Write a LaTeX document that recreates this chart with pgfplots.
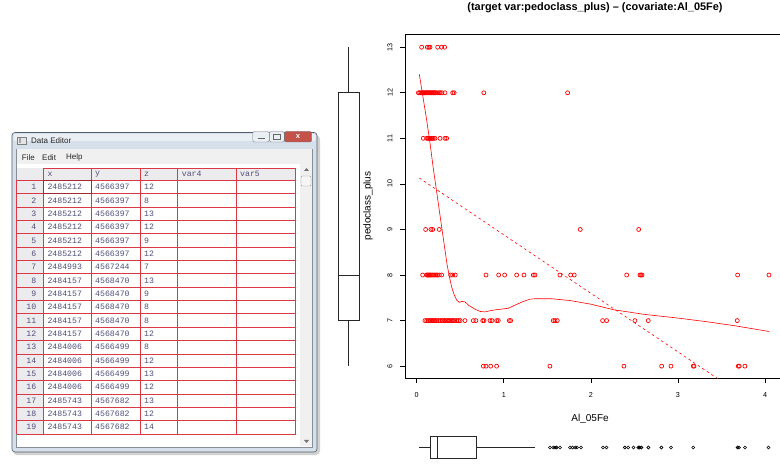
\documentclass[border=0pt]{standalone}
\usepackage{fontspec}
\setmainfont{Liberation Sans}
\newfontfamily\mono{Liberation Mono}
\usepackage{pgfplots}
\pgfplotsset{compat=1.18}
\usepgfplotslibrary{statistics}
\definecolor{gridred}{RGB}{218,56,68}
\definecolor{celltext}{RGB}{78,78,122}
\definecolor{rowgray}{RGB}{236,236,238}
\definecolor{framecol}{RGB}{214,224,234}
\definecolor{frameline}{RGB}{84,94,108}
\definecolor{menugray}{RGB}{240,240,240}
\definecolor{closered}{RGB}{196,82,72}
\begin{document}
\begin{tikzpicture}[x=1pt,y=1pt]
\useasboundingbox (0,0) rectangle (780,464);
\fill[white] (0,0) rectangle (780,464);
% ---------------- Data Editor window (pixel coordinates) ----------------
\begin{scope}[shift={(0pt,464pt)}, x=1pt, y=-1pt]
  \fill[black, opacity=0.18, rounded corners=4pt] (13,135) rectangle (320,455);
  \draw[frameline, fill=framecol, rounded corners=3pt, line width=0.6pt] (12,132.5) rectangle (317,452);
  \fill[white, opacity=0.5, rounded corners=2pt] (13.5,134) rectangle (315.5,141);
  % icon and title
  \draw[black!50, fill=black!10] (17.5,137) rectangle (26.5,144.5);
  \fill[black!35] (18.5,138) rectangle (21,143.5);
  \node[anchor=west, inner sep=0pt, font=\fontsize{8}{9}\selectfont, black!85] at (31,141) {Data Editor};
  % window buttons
  \draw[frameline!80, fill=framecol!50!white, rounded corners=2pt] (252.7,131.5) rectangle (269.3,142);
  \draw[black!60, line width=1pt] (257.5,139) -- (264.5,139);
  \draw[frameline!80, fill=framecol!50!white, rounded corners=2pt] (269.3,131.5) rectangle (284.3,142);
  \draw[black!60, line width=0.7pt] (273.5,134.5) rectangle (280,139.5);
  \draw[frameline!90, fill=closered, rounded corners=2pt] (284.3,131.5) rectangle (311.7,142);
  \node[inner sep=0pt, white, font=\bfseries\fontsize{7.5}{8}\selectfont] at (298,136.8) {x};
  % client area
  \draw[frameline!70, fill=white] (16.5,149) rectangle (312.5,447);
  \fill[menugray] (17,149.5) rectangle (312,164);
  \node[anchor=west, inner sep=0pt, font=\fontsize{8}{9}\selectfont, black!85] at (21.7,157.3) {File};
  \node[anchor=west, inner sep=0pt, font=\fontsize{8}{9}\selectfont, black!85] at (42,157.3) {Edit};
  \node[anchor=west, inner sep=0pt, font=\fontsize{8}{9}\selectfont, black!85] at (66,157.3) {Help};
  % scrollbar
  \fill[menugray] (300,164) rectangle (312,446.5);
  \fill[black!55] (304,171) -- (309,171) -- (306.5,168) -- cycle;
  \fill[black!55] (304,440) -- (309,440) -- (306.5,443) -- cycle;
  \draw[black!40, fill=black!4, rounded corners=1pt] (301,176) rectangle (311,186);
  % table backgrounds
  \fill[rowgray] (16.7,168) rectangle (43.3,434);
  \fill[rowgray] (43.3,168) rectangle (295.7,180.3);
  % grid
  \draw[gridred, line width=0.6pt] (43.3,168) -- (295.7,168);
  \foreach \k in {0,...,19} {
    \pgfmathsetmacro{\yy}{180.3+13.35*\k}
    \draw[gridred, line width=0.6pt] (16.7,\yy) -- (295.7,\yy);
  }
  \draw[gridred, line width=0.6pt] (16.7,180.3) -- (16.7,434);
  \foreach \xx in {43.3,91.7,140,177.3,236.7,295.7} {
    \draw[gridred, line width=0.6pt] (\xx,168) -- (\xx,434);
  }
  \draw[gridred!75!black, line width=1.1pt] (43.6,180.6) rectangle (91.4,193.35);
  % header
  \foreach \hx/\htxt in {47.3/x, 95/y, 144/z, 181.7/var4, 240/var5} {
    \node[anchor=west, inner sep=0pt, celltext, font=\mono\fontsize{8.2}{9}\selectfont] at (\hx,174.2) {\htxt};
  }
  % rows
  \foreach \r/\a/\b/\c in {1/2485212/4566397/12, 2/2485212/4566397/8, 3/2485212/4566397/13,
      4/2485212/4566397/12, 5/2485212/4566397/9, 6/2485212/4566397/12, 7/2484993/4567244/7,
      8/2484157/4568470/13, 9/2484157/4568470/9, 10/2484157/4568470/8, 11/2484157/4568470/8,
      12/2484157/4568470/12, 13/2484006/4566499/8, 14/2484006/4566499/12, 15/2484006/4566499/13,
      16/2484006/4566499/12, 17/2485743/4567682/13, 18/2485743/4567682/12, 19/2485743/4567682/14} {
    \pgfmathsetmacro{\yc}{180.3+13.35*(\r-0.5)}
    \node[anchor=east, inner sep=0pt, celltext, font=\mono\fontsize{8.2}{9}\selectfont] at (36.5,\yc) {\r};
    \node[anchor=west, inner sep=0pt, celltext, font=\mono\fontsize{8.2}{9}\selectfont] at (47.3,\yc) {\a};
    \node[anchor=west, inner sep=0pt, celltext, font=\mono\fontsize{8.2}{9}\selectfont] at (95,\yc) {\b};
    \node[anchor=west, inner sep=0pt, celltext, font=\mono\fontsize{8.2}{9}\selectfont] at (144,\yc) {\c};
  }
\end{scope}
% ---------------- Main scatter plot ----------------
\begin{axis}[
  at={(405pt,86pt)}, anchor=south west,
  scale only axis, width=380pt, height=344pt,
  xmin=-0.134, xmax=4.229, ymin=5.74, ymax=13.29,
  axis line style={black, line width=0.6pt},
  xtick={0,1,2,3,4}, ytick={6,7,8,9,10,11,12,13},
  xtick pos=bottom, ytick pos=left,
  tick align=outside, major tick length=5pt,
  tick style={black, line width=0.6pt},
  tick label style={font=\fontsize{7.2}{8}\selectfont},
  /pgf/number format/assume math mode=true,
  xticklabel style={anchor=center, inner sep=0pt},
  yticklabel style={rotate=90, anchor=center, inner sep=0pt},
  xticklabel shift=12pt, yticklabel shift=10pt,
  xlabel={Al\_05Fe}, ylabel={pedoclass\_plus},
  label style={font=\fontsize{7.2}{8}\selectfont},
  every axis x label/.style={at={(axis description cs:0.487,-0.119)}, anchor=center},
  every axis y label/.style={at={(axis description cs:-0.0974,0.5)}, rotate=90, anchor=center},
  title={(target var:pedoclass\_plus) \textendash{} (covariate:Al\_05Fe)},
  title style={at={(axis description cs:0.5,1.058)}, anchor=center, font=\bfseries\fontsize{10.9}{12}\selectfont},
]
\addplot[only marks, mark=o, mark size=2pt, red, mark options={line width=0.7pt}] coordinates {
 (0.057,13) (0.122,13) (0.141,13) (0.153,13) (0.241,13) (0.287,13) (0.321,13)
 (0.02,12) (0.035,12) (0.05,12) (0.06,12) (0.07,12) (0.08,12) (0.09,12) (0.10,12) (0.11,12)
 (0.12,12) (0.13,12) (0.14,12) (0.15,12) (0.16,12) (0.17,12) (0.18,12) (0.19,12) (0.20,12)
 (0.21,12) (0.22,12) (0.24,12) (0.26,12) (0.27,12) (0.29,12) (0.325,12) (0.413,12) (0.43,12)
 (0.771,12) (1.733,12)
 (0.076,11) (0.115,11) (0.13,11) (0.14,11) (0.15,11) (0.16,11) (0.17,11) (0.18,11) (0.19,11)
 (0.21,11) (0.268,11) (0.325,11) (0.344,11)
 (0.103,9) (0.164,9) (0.184,9) (0.259,9) (1.878,9) (2.549,9)
 (0.069,8) (0.115,8) (0.125,8) (0.135,8) (0.145,8) (0.155,8) (0.165,8) (0.18,8) (0.195,8)
 (0.21,8) (0.225,8) (0.24,8) (0.26,8) (0.287,8) (0.39,8) (0.413,8) (0.443,8) (0.796,8)
 (0.941,8) (1.01,8) (1.148,8) (1.232,8) (1.339,8) (1.358,8) (1.645,8) (1.768,8) (1.809,8)
 (2.411,8) (2.564,8) (2.575,8) (2.587,8) (3.685,8) (4.045,8)
 (0.095,7) (0.115,7) (0.135,7) (0.15,7) (0.165,7) (0.18,7) (0.19,7) (0.2,7) (0.215,7)
 (0.23,7) (0.25,7) (0.27,7) (0.29,7) (0.3,7) (0.32,7) (0.335,7) (0.35,7) (0.365,7) (0.38,7)
 (0.395,7) (0.41,7) (0.425,7) (0.44,7) (0.46,7) (0.48,7) (0.5,7) (0.555,7) (0.65,7) (0.68,7)
 (0.758,7) (0.773,7) (0.842,7) (0.865,7) (0.918,7) (0.937,7) (1.063,7) (1.079,7) (1.568,7)
 (1.588,7) (1.614,7) (2.135,7) (2.181,7) (2.506,7) (2.659,7) (3.681,7)
 (0.765,6) (0.796,6) (0.85,6) (0.918,6) (1.53,6) (2.38,6) (2.813,6) (2.92,6) (3.176,6)
 (3.184,6) (3.692,6) (3.704,6) (3.769,6)
};
\addplot[red, line width=0.6pt] coordinates {
 (0.03,12.41) (0.115,11.40) (0.153,10.90) (0.19,10.35) (0.25,9.55) (0.30,8.88) (0.325,8.55)
 (0.35,8.22) (0.374,7.98) (0.40,7.75) (0.428,7.58) (0.46,7.45) (0.489,7.40) (0.52,7.42)
 (0.555,7.41) (0.60,7.33) (0.67,7.25) (0.73,7.20) (0.784,7.19) (0.85,7.22) (0.918,7.24)
 (1.052,7.27) (1.14,7.35) (1.224,7.42) (1.30,7.47) (1.358,7.48) (1.55,7.48) (1.76,7.44)
 (2.0,7.36) (2.257,7.24) (2.6,7.14) (3.023,7.05) (3.35,6.97) (3.674,6.88) (4.048,6.76)
};
\addplot[red, line width=0.6pt, dash pattern=on 2.5pt off 3pt] coordinates {(0.03,10.13) (4.045,4.97)};
\end{axis}
% ---------------- Left boxplot (pedoclass_plus) ----------------
\begin{axis}[
  at={(330.5pt,86pt)}, anchor=south west,
  scale only axis, width=36pt, height=344pt,
  xmin=0, xmax=2, ymin=5.74, ymax=13.29, hide axis,
]
\addplot[black!85, line width=0.6pt] coordinates {(0.4167,7) (1.5833,7) (1.5833,12) (0.4167,12) (0.4167,7)};
\addplot[black!85, line width=0.8pt] coordinates {(0.4167,8) (1.5833,8)};
\addplot[black!85, line width=0.6pt] coordinates {(1,12) (1,13)};
\addplot[black!85, line width=0.6pt] coordinates {(1,6) (1,7)};
\end{axis}
% ---------------- Bottom boxplot (Al_05Fe) ----------------
\begin{axis}[
  at={(405pt,0pt)}, anchor=south west,
  scale only axis, width=380pt, height=33pt,
  xmin=-0.134, xmax=4.229, ymin=0, ymax=2, hide axis,
]
\addplot[black!85, line width=0.6pt, boxplot/draw direction=x, boxplot prepared={lower whisker=0.03,
  lower quartile=0.153, median=0.241, upper quartile=0.689, upper whisker=1.358,
  draw position=1, box extend=1.35, whisker extend=0}] coordinates {};
\addplot[only marks, mark=o, mark size=1.5pt, black, mark options={line width=0.6pt}] coordinates {
 (1.53,1) (1.568,1) (1.588,1) (1.607,1) (1.645,1) (1.76,1) (1.79,1) (1.82,1) (1.84,1)
 (1.886,1) (2.14,1) (2.18,1) (2.39,1) (2.43,1) (2.49,1) (2.545,1) (2.56,1) (2.58,1)
 (2.66,1) (2.81,1) (2.92,1) (3.176,1) (3.685,1) (3.70,1) (3.77,1) (4.04,1)
};
\end{axis}
\end{tikzpicture}
\end{document}
